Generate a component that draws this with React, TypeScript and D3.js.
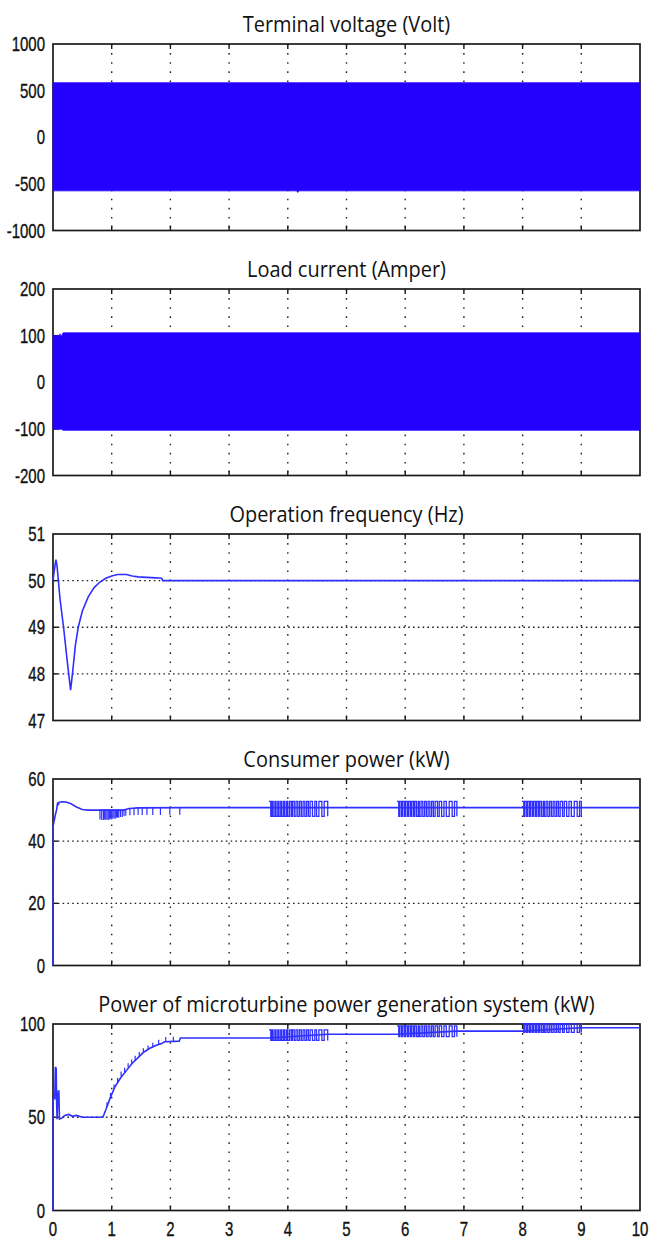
import React from 'react';
import * as d3 from 'd3';

// ---------- shared ----------
const timeTicks = [0, 1, 2, 3, 4, 5, 6, 7, 8, 9, 10];
const timeGrid = [1, 2, 3, 4, 5, 6, 7, 8, 9];

// ---------- panel 1: terminal voltage (envelope of the fast sine) ----------
const voltageTicks = [1000, 500, 0, -500, -1000];
const voltageT = [0, 4.15, 4.17, 4.19, 10];
const voltageUpper = [585, 585, 585, 585, 585];
const voltageLower = [-575, -575, -592, -575, -575];

// ---------- panel 2: load current (envelope) ----------
const currentTicks = [200, 100, 0, -100, -200];
const currentT = [0, 0.11, 0.12, 0.13, 0.15, 0.17, 10];
const currentUpper = [100, 100, 104, 100, 100, 106, 106];
const currentLower = [-101, -101, -101, -101, -101, -103, -103];

// ---------- panel 3: operation frequency ----------
const freqTicks = [51, 50, 49, 48, 47];
const freqT = [0, 0.02, 0.05, 0.07, 0.12, 0.18, 0.24, 0.3, 0.34, 0.38, 0.43, 0.5, 0.6, 0.7, 0.8, 0.9, 1.0, 1.1, 1.25, 1.35, 1.45, 1.6, 1.75, 1.85, 1.87, 10];
const freqV = [50.0, 50.2, 50.45, 50.3, 49.6, 49.0, 48.3, 47.65, 48.1, 48.6, 49.0, 49.35, 49.65, 49.85, 49.97, 50.05, 50.1, 50.13, 50.13, 50.1, 50.08, 50.07, 50.06, 50.05, 50.0, 50.0];

// ---------- switching bursts (same instants in panels 4 and 5) ----------
const burst1T = [3.68, 3.71, 3.73, 3.75, 3.78, 3.8, 3.83, 3.85, 3.88, 3.9, 3.93, 3.95, 3.98, 4.0, 4.03, 4.06, 4.08, 4.11, 4.14, 4.17, 4.2, 4.23, 4.26, 4.29, 4.32, 4.35, 4.38, 4.42, 4.46, 4.49, 4.53, 4.58, 4.62, 4.68];
const burst2T = [5.86, 5.89, 5.91, 5.94, 5.96, 5.99, 6.01, 6.04, 6.06, 6.09, 6.11, 6.14, 6.16, 6.19, 6.22, 6.24, 6.27, 6.3, 6.33, 6.36, 6.39, 6.42, 6.45, 6.48, 6.51, 6.55, 6.58, 6.62, 6.66, 6.7, 6.75, 6.8, 6.84, 6.88];
const burst3T = [7.99, 8.02, 8.04, 8.07, 8.09, 8.12, 8.14, 8.17, 8.19, 8.22, 8.24, 8.27, 8.29, 8.32, 8.35, 8.37, 8.4, 8.43, 8.46, 8.49, 8.52, 8.55, 8.58, 8.61, 8.64, 8.68, 8.71, 8.75, 8.79, 8.83, 8.88, 8.93, 8.97, 9.0];

// ---------- panel 4: consumer power ----------
const consumerTicks = [60, 40, 20, 0];
const consumerT = [0, 0.004, 0.02, 0.04, 0.06, 0.08, 0.09, 0.1, 0.15, 0.22, 0.3, 0.4, 0.5, 0.6, 0.85, 1.2, 1.3, 1.45, 2.2, 10];
const consumerV = [0, 45, 46.5, 48.5, 50, 52.5, 51.5, 52.5, 52.7, 52.6, 52.1, 51.0, 50.2, 50.0, 50.0, 50.0, 50.5, 50.7, 50.8, 50.8];
const consumerDipT = [0.8, 0.83, 0.86, 0.88, 0.9, 0.92, 0.94, 0.96, 0.98, 1.0, 1.02, 1.04, 1.06, 1.08, 1.1, 1.12, 1.15, 1.18, 1.21, 1.24, 1.31, 1.38, 1.45, 1.52, 1.6, 1.7, 1.83, 1.99, 2.16];
const consumerDipLo = [47, 46.8, 46.8, 47, 46.8, 47, 46.8, 47, 47.2, 47, 47.2, 47.4, 47.2, 47.5, 47.6, 47.5, 47.8, 47.8, 48, 48.2, 48.3, 48.3, 48.4, 48.4, 48.4, 48.4, 48.4, 48.5, 48.5];
const consumerDipHi = [50.2, 50.2, 50.2, 50.2, 50.2, 50.2, 50.2, 50.2, 50.2, 50.2, 50.2, 50.2, 50.2, 50.2, 50.2, 50.2, 50.2, 50.2, 50.2, 50.2, 50.5, 50.6, 50.7, 50.8, 50.8, 50.8, 50.8, 50.8, 50.8];
const consumerBurstLo = [48.0, 48.0, 48.0];
const consumerBurstHi = [52.8, 52.8, 52.8];

// ---------- panel 5: microturbine power ----------
const turbineTicks = [100, 50, 0];
const turbineT = [0, 0.003, 0.03, 0.04, 0.055, 0.06, 0.07, 0.08, 0.09, 0.1, 0.11, 0.15, 0.2, 0.27, 0.33, 0.4, 0.5, 0.85, 0.9, 0.97, 1.05, 1.15, 1.25, 1.35, 1.45, 1.55, 1.65, 1.75, 1.85, 1.9, 2.15, 2.17, 3.68, 4.68, 5.86, 6.88, 7.99, 9.0, 10];
const turbineV = [0, 60, 60, 77, 76, 60, 49, 60, 64, 64, 49, 49.5, 51, 51.5, 50.5, 51, 50, 50, 54, 60, 66, 71, 75, 79, 82, 85, 87, 88.5, 89.5, 90.5, 90.8, 92.5, 92.5, 94.5, 94.5, 96.2, 96.2, 98, 98];
const turbineRiseT = [0.92, 0.98, 1.04, 1.1, 1.16, 1.22, 1.28, 1.34, 1.4, 1.47, 1.54, 1.62, 1.7, 1.8, 1.92, 2.05];
const turbineRiseLo = [55.5, 60.5, 65, 68.5, 72, 74, 76.5, 78.5, 80.5, 82.5, 84.5, 86, 87.5, 89, 90.5, 90.7];
const turbineRiseHi = [58, 63, 67.5, 71, 74.5, 76.5, 79, 81, 83, 85, 87, 88.5, 90, 91.5, 93, 93.2];
const turbineBurstLo = [91.2, 93.2, 95.5];
const turbineBurstHi = [96.9, 99.0, 100.5];

// ---------- layout ----------
const W = 651;
const H = 1241;
const PL = 53;
const PR = 640;
const PH = 186.5;
const TOPS = [44, 289, 534, 779, 1024];
const FILL = '#2400ff';
const LINE = '#2f2fff';
const TICK_FONT = "'Liberation Sans', Arial, sans-serif";
const TITLE_FONT = "'Open Sans', 'Noto Sans', sans-serif";

const x = d3.scaleLinear().domain([0, 10]).range([PL, PR]);

type PanelProps = {
  idx: number;
  top: number;
  title: string;
  domain: [number, number];
  ticks: number[];
  showX?: boolean;
  children: (y: d3.ScaleLinear<number, number>) => React.ReactNode;
};

function Label({ tx, ty, anchor, children }: { tx: number; ty: number; anchor: 'end' | 'middle'; children: React.ReactNode }) {
  return (
    <text
      transform={`translate(${tx},${ty}) scale(0.75,1)`}
      textAnchor={anchor}
      fontFamily={TICK_FONT}
      fontSize={20}
      fill="#111"
      stroke="#111"
      strokeWidth={0.35}
    >
      {children}
    </text>
  );
}

function Panel({ idx, top, title, domain, ticks, showX, children }: PanelProps) {
  const y = d3.scaleLinear().domain(domain).range([top + PH, top]);
  const inner = ticks.filter((t) => t !== domain[0] && t !== domain[1]);
  const clipId = `clip${idx}`;
  return (
    <g>
      <defs>
        <clipPath id={clipId}>
          <rect x={PL - 1} y={top - 1} width={PR - PL + 2} height={PH + 2} />
        </clipPath>
      </defs>
      <text
        transform={`translate(${(PL + PR) / 2},${top - 12}) scale(0.95,1)`}
        textAnchor="middle"
        fontFamily={TITLE_FONT}
        fontSize={21}
        fill="#111"
      >
        {title}
      </text>
      {/* grid */}
      {timeGrid.map((t) => (
        <line key={'gx' + t} x1={x(t)} x2={x(t)} y1={top} y2={top + PH} stroke="#222" strokeWidth={1.4} strokeDasharray="1.6,7.5" />
      ))}
      {inner.map((v) => (
        <line key={'gy' + v} x1={PL} x2={PR} y1={y(v)} y2={y(v)} stroke="#222" strokeWidth={1.4} strokeDasharray="1.6,3.2" />
      ))}
      {/* frame */}
      <rect x={PL} y={top} width={PR - PL} height={PH} fill="none" stroke="#1a1a1a" strokeWidth={1.7} />
      {timeGrid.map((t) => (
        <g key={'tx' + t}>
          <line x1={x(t)} x2={x(t)} y1={top + PH} y2={top + PH - 5} stroke="#1a1a1a" strokeWidth={1.4} />
          <line x1={x(t)} x2={x(t)} y1={top} y2={top + 5} stroke="#1a1a1a" strokeWidth={1.4} />
        </g>
      ))}
      {inner.map((v) => (
        <g key={'ty' + v}>
          <line x1={PL} x2={PL + 5} y1={y(v)} y2={y(v)} stroke="#1a1a1a" strokeWidth={1.4} />
          <line x1={PR} x2={PR - 5} y1={y(v)} y2={y(v)} stroke="#1a1a1a" strokeWidth={1.4} />
        </g>
      ))}
      <g clipPath={`url(#${clipId})`}>{children(y)}</g>
      {ticks.map((v) => (
        <Label key={'ly' + v} tx={PL - 8} ty={y(v) + 7} anchor="end">
          {v < 0 ? '-' + Math.abs(v) : String(v)}
        </Label>
      ))}
      {showX &&
        timeTicks.map((t) => (
          <Label key={'lx' + t} tx={x(t)} ty={top + PH + 25} anchor="middle">
            {t}
          </Label>
        ))}
    </g>
  );
}

function envelope(ts: number[], up: number[], lo: number[], y: d3.ScaleLinear<number, number>) {
  const a = d3
    .area<number>()
    .x((i) => x(ts[i]))
    .y0((i) => y(lo[i]))
    .y1((i) => y(up[i]));
  return a(ts.map((_, i) => i)) || '';
}

function trace(ts: number[], vs: number[], y: d3.ScaleLinear<number, number>) {
  const l = d3
    .line<number>()
    .x((i) => x(ts[i]))
    .y((i) => y(vs[i]));
  return l(ts.map((_, i) => i)) || '';
}

// square-wave comb through a list of switching instants
function comb(ts: number[], lo: number, hi: number, y: d3.ScaleLinear<number, number>) {
  const l = d3
    .line<number>()
    .curve(d3.curveStepAfter)
    .x((i) => x(ts[i]))
    .y((i) => y(i % 2 === 0 ? hi : lo));
  return l(ts.map((_, i) => i)) || '';
}

function spikes(ts: number[], lo: number[], hi: number[], y: d3.ScaleLinear<number, number>) {
  return ts.map((t, i) => (
    <line key={'s' + i} x1={x(t)} x2={x(t)} y1={y(lo[i])} y2={y(hi[i])} stroke={LINE} strokeWidth={1.2} />
  ));
}

export default function App() {
  const bursts = [burst1T, burst2T, burst3T];
  return (
    <svg width={W} height={H} style={{ position: 'absolute', left: 0, top: 0, background: '#fff' }}>
      <rect x={0} y={0} width={W} height={H} fill="#fff" />
      <Panel idx={0} top={TOPS[0]} title="Terminal voltage (Volt)" domain={[-1000, 1000]} ticks={voltageTicks}>
        {(y) => <path d={envelope(voltageT, voltageUpper, voltageLower, y)} fill={FILL} stroke={FILL} strokeWidth={0.8} />}
      </Panel>
      <Panel idx={1} top={TOPS[1]} title="Load current (Amper)" domain={[-200, 200]} ticks={currentTicks}>
        {(y) => <path d={envelope(currentT, currentUpper, currentLower, y)} fill={FILL} stroke={FILL} strokeWidth={0.8} />}
      </Panel>
      <Panel idx={2} top={TOPS[2]} title="Operation frequency (Hz)" domain={[47, 51]} ticks={freqTicks}>
        {(y) => <path d={trace(freqT, freqV, y)} fill="none" stroke={LINE} strokeWidth={1.6} />}
      </Panel>
      <Panel idx={3} top={TOPS[3]} title="Consumer power (kW)" domain={[0, 60]} ticks={consumerTicks}>
        {(y) => (
          <g>
            <path d={trace(consumerT, consumerV, y)} fill="none" stroke={LINE} strokeWidth={1.6} />
            {spikes(consumerDipT, consumerDipLo, consumerDipHi, y)}
            {bursts.map((b, k) => (
              <path key={k} d={comb(b, consumerBurstLo[k], consumerBurstHi[k], y)} fill="none" stroke={LINE} strokeWidth={1.3} />
            ))}
          </g>
        )}
      </Panel>
      <Panel idx={4} top={TOPS[4]} title="Power of microturbine power generation system (kW)" domain={[0, 100]} ticks={turbineTicks} showX>
        {(y) => (
          <g>
            <path d={trace(turbineT, turbineV, y)} fill="none" stroke={LINE} strokeWidth={1.6} />
            {spikes(turbineRiseT, turbineRiseLo, turbineRiseHi, y)}
            {bursts.map((b, k) => (
              <path key={k} d={comb(b, turbineBurstLo[k], turbineBurstHi[k], y)} fill="none" stroke={LINE} strokeWidth={1.3} />
            ))}
          </g>
        )}
      </Panel>
    </svg>
  );
}
